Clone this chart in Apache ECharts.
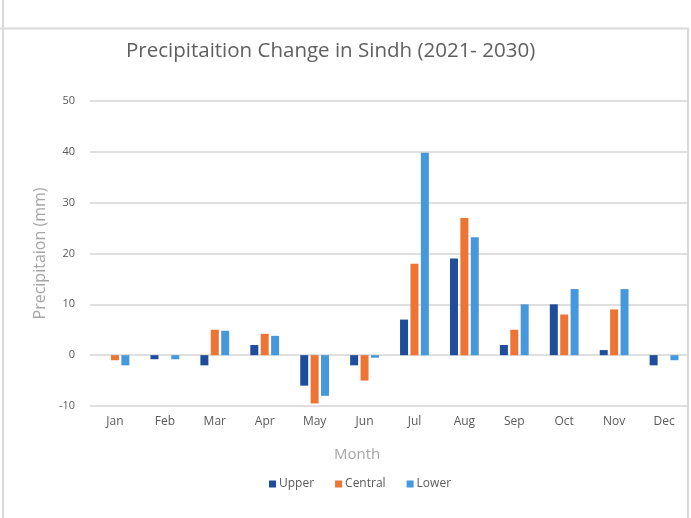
<!DOCTYPE html>
<html>
<head>
<meta charset="utf-8">
<script src="https://cdn.jsdelivr.net/npm/echarts@6/dist/echarts.min.js"></script>
<style>html,body{margin:0;padding:0;background:#fff;}#c{width:691px;height:518px;}</style>
</head>
<body>
<div id="c"></div>
<script>
const months = ['Jan','Feb','Mar','Apr','May','Jun','Jul','Aug','Sep','Oct','Nov','Dec'];
const upper = [0, -0.8, -2, 2, -6, -2, 7, 19, 2, 10, 1, -2];
const central = [-1, 0, 5, 4.2, -9.5, -5, 18, 27, 5, 8, 9, 0];
const lower = [-2, -0.8, 4.8, 3.8, -8, -0.5, 39.8, 23.2, 10, 13, 13, -1];
const yTicks = {min: -10, max: 50, interval: 10};

const font = 'Open Sans';
const chart = echarts.init(document.getElementById('c'));
chart.setOption({
  animation: false,
  textStyle: {fontFamily: font},
  title: {
    text: 'Precipitaition Change in Sindh (2021- 2030)',
    left: 121, top: 36,
    textStyle: {fontFamily: font, fontSize: 20.5, fontWeight: 'normal', color: '#606060'}
  },
  legend: {
    bottom: 23, left: 264,
    itemWidth: 7, itemHeight: 7, itemGap: 21,
    icon: 'rect',
    textStyle: {fontFamily: font, fontSize: 12, color: '#595959', padding: [0, 0, 0, -2]},
    data: ['Upper', 'Central', 'Lower']
  },
  grid: {left: 90, right: 2, top: 101, bottom: 112},
  xAxis: {
    type: 'category', data: months,
    axisLine: {show: false}, axisTick: {show: false},
    axisLabel: {fontFamily: font, fontSize: 12, color: '#5a5a5a', margin: 10}
  },
  yAxis: {
    type: 'value', min: yTicks.min, max: yTicks.max, interval: yTicks.interval,
    name: 'Precipitaion (mm)', nameLocation: 'middle', nameGap: 41,
    nameTextStyle: {fontFamily: font, fontSize: 16, color: '#a6a6a6'},
    axisLine: {show: false}, axisTick: {show: false},
    axisLabel: {fontFamily: font, fontSize: 11, color: '#595959', margin: 15},
    splitLine: {lineStyle: {color: '#d4d4d4', width: 1.5}}
  },
  series: [
    {name: 'Upper', type: 'bar', data: upper, barWidth: 8, barGap: '30%', itemStyle: {color: '#1e4d9b'}},
    {name: 'Central', type: 'bar', data: central, barWidth: 8, barGap: '30%', itemStyle: {color: '#ee7434'}},
    {name: 'Lower', type: 'bar', data: lower, barWidth: 8, barGap: '30%', itemStyle: {color: '#4598dc'}}
  ],
  graphic: [
    {type: 'text', left: 357 - 23, top: 447, style: {text: 'Month', fontFamily: font, fontSize: 15, fill: '#a6a6a6'}},
    {type: 'line', shape: {x1: 3, y1: 0, x2: 3, y2: 518}, style: {stroke: '#d9d9d9', lineWidth: 2}},
    {type: 'line', shape: {x1: 0, y1: 28.5, x2: 689, y2: 28.5}, style: {stroke: '#d9d9d9', lineWidth: 2}},
    {type: 'line', shape: {x1: 688, y1: 28, x2: 688, y2: 518}, style: {stroke: '#d9d9d9', lineWidth: 2}}
  ]
});
</script>
</body>
</html>
